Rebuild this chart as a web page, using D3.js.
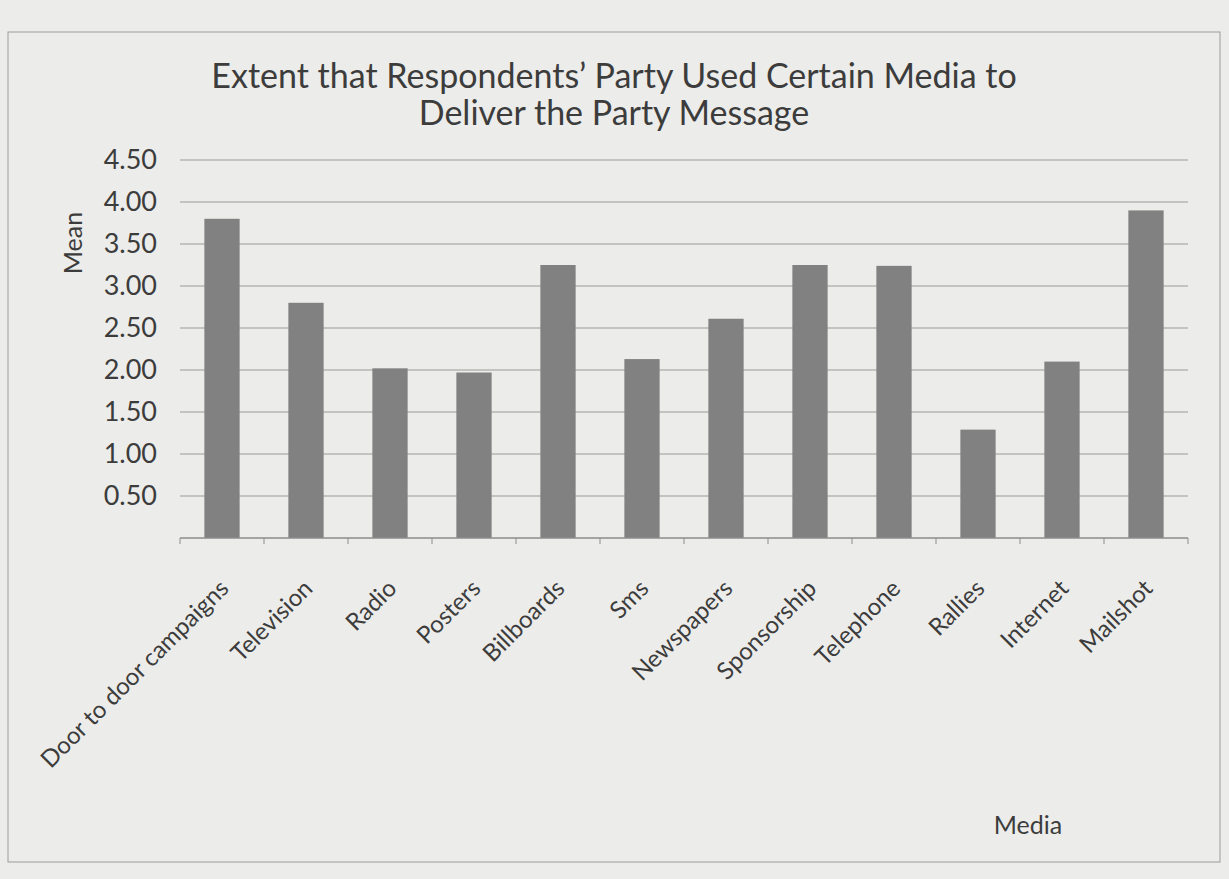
<!DOCTYPE html>
<html>
<head>
<meta charset="utf-8">
<script src="https://cdn.jsdelivr.net/npm/d3@7"></script>
<style>
  body { margin: 0; background: #ececea; }
  text { font-family: Lato, "Open Sans", sans-serif; fill: #3c3c3c; }
</style>
</head>
<body>
<div id="chart-area"></div>
<script>
// data
let media = ["Door to door campaigns", "Television", "Radio", "Posters", "Billboards", "Sms",
	"Newspapers", "Sponsorship", "Telephone", "Rallies", "Internet", "Mailshot"];
let means = [3.80, 2.80, 2.02, 1.97, 3.25, 2.13, 2.61, 3.25, 3.24, 1.29, 2.10, 3.90];
let yTicks = [0.5, 1, 1.5, 2, 2.5, 3, 3.5, 4, 4.5];
let titleLines = ["Extent that Respondents\u2019 Party Used Certain Media to", "Deliver the Party Message"];

let width = 1229,
	height = 879;
let plot = {left: 180, right: 1188, top: 160, bottom: 538};

let svg = d3.select('#chart-area').append('svg')
	.attr('width', width)
	.attr('height', height);

// chart frame
svg.append('rect')
	.attr('x', 8).attr('y', 32)
	.attr('width', 1212).attr('height', 830)
	.attr('fill', 'none')
	.attr('stroke', '#9c9c9c')
	.attr('stroke-width', 1);

let xScale = d3.scaleBand()
	.domain(media)
	.range([plot.left, plot.right])
	.paddingInner(0.58)
	.paddingOuter(0.29);

let yScale = d3.scaleLinear()
	.domain([0, 4.5])
	.range([plot.bottom, plot.top]);

// gridlines
svg.append('g')
	.attr('class', 'grid')
	.selectAll('line')
	.data(yTicks)
	.enter()
	.append('line')
	.attr('x1', plot.left)
	.attr('x2', plot.right)
	.attr('y1', d => yScale(d))
	.attr('y2', d => yScale(d))
	.attr('stroke', '#9a9a9a')
	.attr('stroke-width', 1.2);

let yaxis = d3.axisLeft()
	.scale(yScale)
	.tickValues(yTicks)
	.tickFormat(d3.format('.2f'))
	.tickSize(0)
	.tickPadding(23);

svg.append('g')
	.attr('class', 'y-axis axis')
	.attr('transform', 'translate(' + plot.left + ',0)')
	.call(yaxis)
	.call(g => g.select('.domain').remove())
	.selectAll('text')
	.style('font-size', '27px')
	.style('font-family', 'Lato, sans-serif')
	.attr('fill', '#3c3c3c');

// bars
svg.selectAll('rect.bar')
	.data(media)
	.enter()
	.append('rect')
	.attr('class', 'bar')
	.attr('x', d => xScale(d))
	.attr('width', xScale.bandwidth())
	.attr('y', (d, i) => yScale(means[i]))
	.attr('height', (d, i) => yScale(0) - yScale(means[i]))
	.attr('fill', '#818181');

// x axis line + ticks between categories
let step = xScale.step();
let xaxis = d3.axisBottom()
	.scale(xScale)
	.tickSize(0)
	.tickFormat('');

svg.append('g')
	.attr('class', 'x-axis axis')
	.attr('transform', 'translate(0,' + plot.bottom + ')')
	.call(xaxis)
	.call(g => g.select('.domain').attr('stroke', '#8c8c8c').attr('stroke-width', 1.5)
		.attr('d', 'M' + plot.left + ',0H' + plot.right));

svg.append('g')
	.selectAll('line')
	.data(d3.range(media.length + 1))
	.enter()
	.append('line')
	.attr('x1', i => plot.left + i * step)
	.attr('x2', i => plot.left + i * step)
	.attr('y1', plot.bottom)
	.attr('y2', plot.bottom + 6)
	.attr('stroke', '#8c8c8c');

// rotated category labels
svg.append('g')
	.selectAll('text')
	.data(media)
	.enter()
	.append('text')
	.attr('text-anchor', 'end')
	.attr('transform', d => 'translate(' + (xScale(d) + xScale.bandwidth() / 2 + 8) + ',' + (plot.bottom + 52) + ') rotate(-45)')
	.style('font-size', '24px')
	.text(d => d);

// title
svg.append('g')
	.selectAll('text')
	.data(titleLines)
	.enter()
	.append('text')
	.attr('x', 614)
	.attr('y', (d, i) => 88 + i * 37)
	.attr('text-anchor', 'middle')
	.style('font-size', '34px')
	.text(d => d);

svg.append('text')
	.attr('transform', 'rotate(-90)')
	.attr('x', -243)
	.attr('y', 82)
	.attr('text-anchor', 'middle')
	.style('font-size', '25px')
	.text('Mean');

svg.append('text')
	.attr('x', 1028)
	.attr('y', 834)
	.attr('text-anchor', 'middle')
	.style('font-size', '25px')
	.text('Media');
</script>
</body>
</html>
